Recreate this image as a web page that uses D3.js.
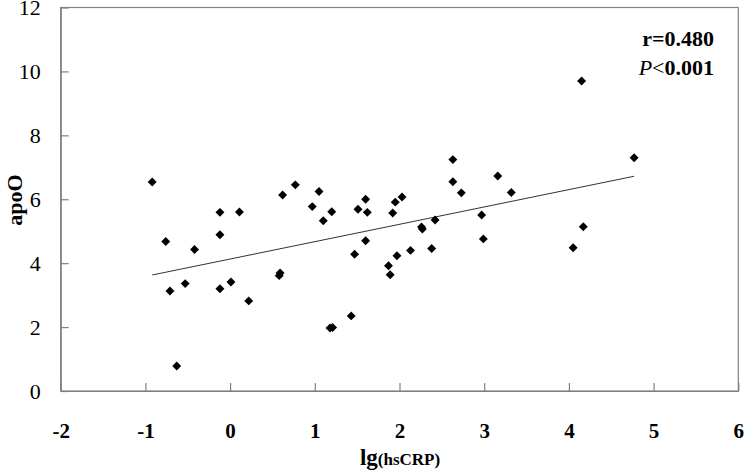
<!DOCTYPE html>
<html>
<head>
<meta charset="utf-8">
<script src="https://cdn.jsdelivr.net/npm/d3@7"></script>
<style>
  body { margin: 0; background: #fff; }
  svg { font-family: "Liberation Serif", "Times New Roman", serif; }
</style>
</head>
<body>
<div id="chart"></div>
<script>
// lg(hsCRP) values
var xVals = [-0.92, -0.76, -0.71, -0.53, -0.42, -0.63, -0.12, -0.12, -0.12, 0.01,
             0.11, 0.22, 0.59, 0.58, 0.62, 0.77, 0.97, 1.05, 1.10, 1.20,
             1.18, 1.21, 1.43, 1.47, 1.51, 1.60, 1.62, 1.60, 1.87, 1.89,
             1.92, 1.95, 2.03, 1.97, 2.13, 2.26, 2.27, 2.42, 2.38, 2.63,
             2.63, 2.73, 2.97, 2.99, 3.16, 3.32, 4.77, 4.17, 4.05, 4.15];
// apoO values
var yVals = [6.54, 4.68, 3.13, 3.36, 4.43, 0.78, 5.59, 4.89, 3.20, 3.41,
             5.60, 2.82, 3.69, 3.61, 6.13, 6.45, 5.77, 6.24, 5.33, 5.61,
             1.97, 1.99, 2.35, 4.28, 5.69, 6.00, 5.59, 4.70, 3.92, 3.64,
             5.57, 5.91, 6.07, 4.23, 4.40, 5.13, 5.07, 5.35, 4.46, 7.24,
             6.55, 6.20, 5.51, 4.76, 6.73, 6.21, 7.30, 5.14, 4.48, 9.70];
// fitted line end points
var fitX = [-0.92, 4.77];
var fitY = [3.63, 6.72];

var xTicks = [-2, -1, 0, 1, 2, 3, 4, 5, 6];
var yTicks = [0, 2, 4, 6, 8, 10, 12];

var W = 746, H = 474;
var margin = {top: 7.5, left: 60.7, right: 7.7, bottom: 83};
var width = W - margin.left - margin.right;
var height = H - margin.top - margin.bottom;

var svg = d3.select("#chart").append("svg").attr("width", W).attr("height", H);
var g = svg.append("g").attr("transform", "translate(" + margin.left + "," + margin.top + ")");

var x = d3.scaleLinear().domain([-2, 6]).range([0, width]);
var y = d3.scaleLinear().domain([0, 12]).range([height, 0]);

// frame
g.append("rect").attr("x", 0).attr("y", 0).attr("width", width).attr("height", height)
  .attr("fill", "none").attr("stroke", "#808080").attr("stroke-width", 1.2);

// x axis, ticks pointing in, plain hyphen for negatives
var xAxis = g.append("g").attr("transform", "translate(0," + height + ")")
  .call(d3.axisBottom(x).tickValues(xTicks).tickFormat(function(d){ return String(d); })
        .tickSizeInner(-8).tickSizeOuter(0).tickPadding(32));
xAxis.select(".domain").attr("stroke", "#808080").attr("stroke-width", 1.2);
xAxis.selectAll(".tick line").attr("stroke", "#808080").attr("stroke-width", 1.2);
xAxis.selectAll("text").attr("font-family", "Liberation Serif, serif")
  .attr("font-size", "21px").attr("font-weight", "bold").attr("fill", "#000");

// y axis
var yAxis = g.append("g")
  .call(d3.axisLeft(y).tickValues(yTicks).tickSizeInner(-8).tickSizeOuter(0).tickPadding(20));
yAxis.select(".domain").attr("stroke", "#808080").attr("stroke-width", 1.2);
yAxis.selectAll(".tick line").attr("stroke", "#808080").attr("stroke-width", 1.2);
yAxis.selectAll("text").attr("font-family", "Liberation Serif, serif")
  .attr("font-size", "22px").attr("fill", "#000");

// trend line
g.append("line")
  .attr("x1", x(fitX[0])).attr("y1", y(fitY[0]))
  .attr("x2", x(fitX[1])).attr("y2", y(fitY[1]))
  .attr("stroke", "#333").attr("stroke-width", 1);

// points
var diamond = d3.symbol().type(d3.symbolSquare).size(40);
g.selectAll("path.pt").data(xVals).enter().append("path")
  .attr("class", "pt")
  .attr("d", diamond)
  .attr("transform", function(d, i) {
    return "translate(" + x(d) + "," + y(yVals[i]) + ") rotate(45)";
  })
  .attr("fill", "#000");

// labels
svg.append("text")
  .attr("transform", "translate(22,200) rotate(-90)")
  .attr("text-anchor", "middle")
  .attr("font-size", "22px").attr("font-weight", "bold")
  .text("apoO");

var xl = svg.append("text")
  .attr("x", 400).attr("y", 465)
  .attr("text-anchor", "middle").attr("font-weight", "bold");
xl.append("tspan").attr("font-size", "23px").text("lg");
xl.append("tspan").attr("font-size", "17px").text("(hsCRP)");

svg.append("text")
  .attr("x", 714).attr("y", 46)
  .attr("text-anchor", "end")
  .attr("font-size", "22px").attr("font-weight", "bold")
  .text("r=0.480");

var pt = svg.append("text")
  .attr("x", 714).attr("y", 75)
  .attr("text-anchor", "end")
  .attr("font-size", "22px");
pt.append("tspan").attr("font-style", "italic").text("P");
pt.append("tspan").text("<");
pt.append("tspan").attr("font-weight", "bold").text("0.001");
</script>
</body>
</html>
